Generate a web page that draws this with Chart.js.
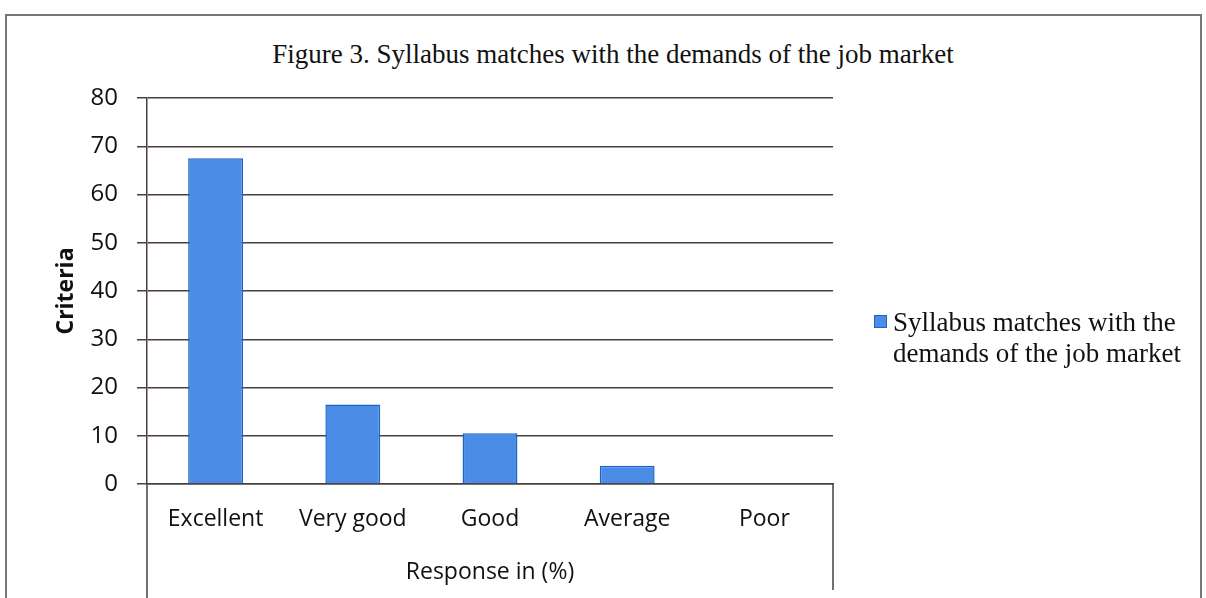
<!DOCTYPE html>
<html>
<head>
<meta charset="utf-8">
<script src="https://cdn.jsdelivr.net/npm/chart.js@4.4.1/dist/chart.umd.min.js"></script>
<style>
  html, body { margin: 0; padding: 0; background: #fff; }
  #wrap { position: relative; width: 1206px; height: 598px; overflow: hidden; }
  #frame { position: absolute; left: 5px; top: 14px; width: 1193px; height: 600px; border: 2px solid #7a7676; border-bottom: none; }
  #title { position: absolute; left: 0; top: 39px; width: 1226px; text-align: center; font-family: "Liberation Serif", serif; font-size: 27px; color: #111; }
  #legend { position: absolute; left: 874px; top: 307px; font-family: "Liberation Serif", serif; font-size: 27px; line-height: 31px; color: #111; }
  #legend .box { display: inline-block; width: 11px; height: 11px; margin-right: 6px; vertical-align: 3px; }
  #legend .text { display: inline-block; vertical-align: top; }
  canvas { position: absolute; left: 0; top: 0; }
</style>
</head>
<body>
<div id="wrap">
  <div id="frame"></div>
  <div id="title"></div>
  <canvas id="myChart" width="1206" height="598"></canvas>
  <div id="legend"></div>
</div>
<script>

const chartTitle = 'Figure 3. Syllabus matches with the demands of the job market';
const categories = ['Excellent', 'Very good', 'Good', 'Average', 'Poor'];
const seriesLabel = ['Syllabus matches with the', 'demands of the job market'];
const responses = [67.5, 16.5, 10.5, 3.8, 0];
const yTicks = [0, 10, 20, 30, 40, 50, 60, 70, 80];

const barFill = '#4a8ce6';
const barEdge = '#1b63c9';
const lineColor = '#4a4040';

// lines under the plot, like the original frame
const frameLines = {
    id: 'frameLines',
    afterDraw: (chart) => {
        const ctx = chart.ctx;
        const x = chart.scales.x;
        ctx.save();
        ctx.strokeStyle = lineColor;
        ctx.lineWidth = 1.5;
        ctx.beginPath();
        ctx.moveTo(x.left, x.top);
        ctx.lineTo(x.left, chart.height);
        ctx.moveTo(x.right, x.top);
        ctx.lineTo(x.right, x.top + 106);
        ctx.stroke();
        ctx.restore();
    }
}

const buildChart = () => {
    var ctx = document.getElementById('myChart').getContext('2d');
    var chart = new Chart(ctx, {
        type: 'bar',
        data: {
            labels: categories,
            datasets: [{
                label: seriesLabel.join(' '),
                backgroundColor: barFill,
                borderColor: barEdge,
                borderWidth: 1.5,
                categoryPercentage: 1,
                barPercentage: 0.4,
                data: responses
            }]
        },
        options: {
            responsive: false,
            animation: false,
            layout: { padding: { left: 0, top: 98, right: 373, bottom: 0 } },
            plugins: {
                legend: { display: false },
                title: { display: false },
                tooltip: { enabled: false }
            },
            scales: {
                x: {
                    afterFit: (scale) => { scale.height = 114; },
                    grid: { display: false, drawTicks: false },
                    border: { display: true, color: lineColor, width: 1.5 },
                    ticks: {
                        padding: 22,
                        color: '#111',
                        font: { family: 'Open Sans', size: 23 }
                    },
                    title: {
                        display: true,
                        text: 'Response in (%)',
                        color: '#111',
                        padding: { top: 0, bottom: 12 },
                        font: { family: 'Open Sans', size: 23 }
                    }
                },
                y: {
                    min: 0,
                    max: 80,
                    afterFit: (scale) => { scale.width = 147; },
                    afterBuildTicks: (scale) => {
                        scale.ticks = yTicks.map((v) => ({ value: v }));
                    },
                    grid: { color: lineColor, lineWidth: 1.5, tickLength: 10 },
                    border: { display: true, color: lineColor, width: 1.5 },
                    ticks: {
                        padding: 19,
                        color: '#111',
                        font: { family: 'Open Sans', size: 24 }
                    },
                    title: {
                        display: true,
                        text: 'Criteria',
                        color: '#111',
                        padding: { top: 53, bottom: 0 },
                        font: { family: 'Open Sans', size: 23, weight: 'bold' }
                    }
                }
            }
        },
        plugins: [frameLines]
    });
    return chart;
}

const showLegend = () => {
    document.getElementById('title').textContent = chartTitle;
    document.getElementById('legend').innerHTML = `
        <span class="box" style="background:${barFill};border:1px solid ${barEdge}"></span><span class="text">${seriesLabel.join('<br>')}</span>
    `;
}

showLegend();
buildChart();
</script>
</body>
</html>
